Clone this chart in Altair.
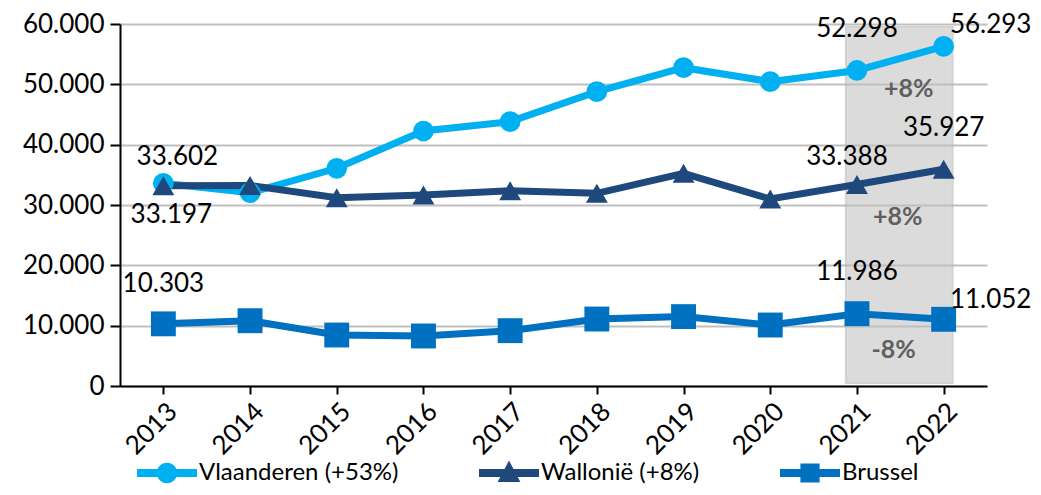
import altair as alt
import pandas as pd

years = [2013, 2014, 2015, 2016, 2017, 2018, 2019, 2020, 2021, 2022]
vlaanderen = [33602, 32050, 36080, 42260, 43810, 48780, 52760, 50440, 52298, 56293]
wallonie = [33197, 33250, 31210, 31660, 32370, 31940, 35250, 30990, 33388, 35927]
brussel = [10303, 10820, 8450, 8290, 9170, 11100, 11500, 10110, 11986, 11052]

series_names = ["Vlaanderen (+53%)", "Wallonië (+8%)", "Brussel"]
series_colors = ["#00B0F0", "#1F497D", "#0070C0"]
change_labels = ["+8%", "+8%", "-8%"]
highlight_years = [2021, 2022]

rows = []
for name, vals in zip(series_names, [vlaanderen, wallonie, brussel]):
    for y, v in zip(years, vals):
        rows.append({"year": y, "value": v, "series": name})
df = pd.DataFrame(rows)

FONT = "Lato"
FS = 26

xenc = alt.X("year:Q", scale=alt.Scale(domain=[2012.5, 2022.5], nice=False, zero=False),
             axis=alt.Axis(values=years, format="d", labelAngle=-45, grid=False, title=None,
                           labelFontSize=FS, labelFont=FONT, labelColor="black",
                           domainColor="black", domainWidth=2, tickColor="black", tickWidth=2,
                           tickSize=8, labelPadding=4))
yenc = alt.Y("value:Q", scale=alt.Scale(domain=[0, 60000], nice=False),
             axis=alt.Axis(values=[0, 10000, 20000, 30000, 40000, 50000, 60000],
                           labelExpr="replace(format(datum.value, ','), ',', '.')",
                           title=None, labelFontSize=FS, labelFont=FONT, labelColor="black",
                           domainColor="black", domainWidth=2, tickColor="black", tickWidth=2,
                           tickSize=10, gridColor="#C0C0C0", gridWidth=2, labelPadding=6))

color_scale = alt.Scale(domain=series_names, range=series_colors)

legend_paths = [
    "M-1,-0.13H1V0.13H-1Z M-0.34,0A0.34,0.34 0 1,1 0.34,0A0.34,0.34 0 1,1 -0.34,0Z",
    "M-1,-0.13H1V0.13H-1Z M0,-0.42L0.38,0.3L-0.38,0.3Z",
    "M-1,-0.13H1V0.13H-1Z M-0.32,-0.32H0.32V0.32H-0.32Z",
]

legend = alt.Legend(title=None, orient="none", direction="horizontal", legendX=17, legendY=419,
                    symbolSize=3600, symbolOpacity=1, symbolStrokeWidth=0,
                    labelFontSize=24, labelFont=FONT, labelColor="black", labelOffset=2,
                    columnPadding=80, padding=0, labelLimit=400)

base = alt.Chart(df)

# highlighted region
hl_df = pd.DataFrame({"start": [highlight_years[0]], "end": [highlight_years[1]]})
highlight = alt.Chart(hl_df).mark_rect(fill="#BFBFBF", opacity=0.55, stroke="#B0B0B0",
                                       strokeWidth=2, xOffset=-11, x2Offset=9).encode(
    x=alt.X("start:Q", scale=alt.Scale(domain=[2012.5, 2022.5], nice=False, zero=False)),
    x2="end:Q",
    y=alt.value(3), y2=alt.value(359))

lines = base.mark_line(strokeWidth=7).encode(
    x=xenc, y=yenc, color=alt.Color("series:N", scale=color_scale, legend=legend))

markers = []
for name, shape, size in zip(series_names, ["circle", "triangle-up", "square"], [430, 480, 620]):
    markers.append(base.transform_filter(alt.datum.series == name).mark_point(
        shape=shape, filled=True, opacity=1, size=size).encode(
        x="year:Q", y="value:Q",
        color=alt.Color("series:N", scale=color_scale, legend=legend)))

legend_layer = base.mark_point(opacity=0, filled=True).encode(
    x="year:Q", y="value:Q",
    color=alt.Color("series:N", scale=color_scale, legend=legend),
    shape=alt.Shape("series:N", scale=alt.Scale(domain=series_names, range=legend_paths),
                    legend=legend))


def value_label(name, year, dx, dy):
    return base.transform_filter(
        (alt.datum.series == name) & (alt.datum.year == year)
    ).transform_calculate(
        lbl="replace(format(datum.value, ','), ',', '.')"
    ).mark_text(fontSize=FS, font=FONT, color="black", dx=dx, dy=dy).encode(
        x="year:Q", y="value:Q", text="lbl:N")


labels = [
    value_label(series_names[0], 2013, 14, -26),
    value_label(series_names[1], 2013, 8, 29),
    value_label(series_names[2], 2013, 0, -40),
    value_label(series_names[0], 2021, 0, -41),
    value_label(series_names[0], 2022, 47, -21),
    value_label(series_names[1], 2021, -10, -28),
    value_label(series_names[1], 2022, 0, -41),
    value_label(series_names[2], 2021, 0, -42),
    value_label(series_names[2], 2022, 47, -19),
]


def change_label(i, dx, dy):
    d = pd.DataFrame({"year": [highlight_years[1]],
                      "value": [[vlaanderen, wallonie, brussel][i][-1]],
                      "txt": [change_labels[i]]})
    return alt.Chart(d).mark_text(fontSize=25, font=FONT, fontWeight="bold", color="#606060",
                                  dx=dx, dy=dy).encode(x="year:Q", y="value:Q", text="txt:N")


changes = [change_label(0, -35, 43), change_label(1, -46, 48), change_label(2, -50, 31)]

chart = alt.layer(highlight, lines, *markers, legend_layer, *labels, *changes).properties(
    width=867, height=362,
    autosize=alt.AutoSizeParams(type="none"),
    padding={"left": 112, "top": 16, "right": 46, "bottom": 101},
).configure_view(stroke=None).configure_axis(labelFont=FONT)

chart.save("out.html", embed_options={"renderer": "svg", "actions": False})
